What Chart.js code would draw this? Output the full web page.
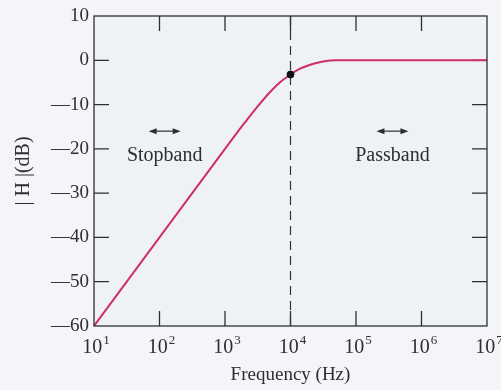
<!DOCTYPE html>
<html>
<head>
<meta charset="utf-8">
<script src="https://cdn.jsdelivr.net/npm/chart.js@4.4.0/dist/chart.umd.min.js"></script>
<style>
  html, body { margin: 0; padding: 0; background: #f3f5f8; }
  #wrap { width: 501px; height: 390px; }
</style>
</head>
<body>
<div id="wrap"><canvas id="bode"></canvas></div>
<script>
// frequency response
const freq = [10, 100, 1000, 1500, 2000, 3000, 5000, 7000, 10000, 14000, 20000, 30000, 40000, 50000, 100000, 1000000, 10000000];
const gain = [-60, -40, -20, -16.5, -14.1, -10.8, -7.0, -4.9, -3.2, -1.9, -1.0, -0.35, -0.05, 0, 0, 0, 0];
const decades = [10, 100, 1000, 10000, 100000, 1000000, 10000000];
const exponents = ['1', '2', '3', '4', '5', '6', '7'];
const yTicks = [10, 0, -10, -20, -30, -40, -50, -60];
const cornerFreq = 10000;
const cornerGain = -3.2;

const serif = 'Liberation Serif';
const ink = '#2e2e2e';

// bands: label text, x/y of label in data units
const bands = [
  { text: 'Stopband', f: 120, db: -21.5, arrowDb: -16.0 },
  { text: 'Passband', f: 360000, db: -21.5, arrowDb: -16.0 }
];

const decorations = {
  id: 'decorations',
  beforeDraw(chart) {
    const { ctx, chartArea: a } = chart;
    ctx.save();
    ctx.fillStyle = '#eef2f7';
    ctx.fillRect(a.left, a.top, a.right - a.left, a.bottom - a.top);
    ctx.restore();
  },
  beforeDatasetsDraw(chart) {
    const { ctx, chartArea: a } = chart;
    const xs = chart.scales.x, ys = chart.scales.y;
    ctx.save();
    ctx.strokeStyle = ink;
    ctx.lineWidth = 1.3;
    // inward ticks
    const len = 15;
    ctx.beginPath();
    decades.slice(1, -1).forEach(v => {
      const px = xs.getPixelForValue(v);
      ctx.moveTo(px, a.bottom); ctx.lineTo(px, a.bottom - len);
      ctx.moveTo(px, a.top); ctx.lineTo(px, a.top + len);
    });
    yTicks.slice(1, -1).forEach(v => {
      const py = ys.getPixelForValue(v);
      ctx.moveTo(a.left, py); ctx.lineTo(a.left + len, py);
      ctx.moveTo(a.right, py); ctx.lineTo(a.right - len, py);
    });
    ctx.stroke();
    ctx.restore();
  },
  afterDraw(chart) {
    const { ctx, chartArea: a } = chart;
    const xs = chart.scales.x, ys = chart.scales.y;
    ctx.save();
    ctx.strokeStyle = ink;
    ctx.lineWidth = 1.3;
    ctx.strokeRect(a.left, a.top, a.right - a.left, a.bottom - a.top);

    // decade labels 10^n
    ctx.fillStyle = ink;
    ctx.textBaseline = 'alphabetic';
    ctx.textAlign = 'left';
    decades.forEach((v, i) => {
      const px = xs.getPixelForValue(v);
      ctx.font = '20px "' + serif + '"';
      const wBase = ctx.measureText('10').width;
      ctx.font = '13px "' + serif + '"';
      const wExp = ctx.measureText(exponents[i]).width;
      const x0 = px - (wBase + wExp + 1) / 2 + 2;
      ctx.font = '20px "' + serif + '"';
      ctx.fillText('10', x0, a.bottom + 27);
      ctx.font = '13px "' + serif + '"';
      ctx.fillText(exponents[i], x0 + wBase + 1, a.bottom + 18);
    });

    // band labels with double arrows
    ctx.font = '20px "' + serif + '"';
    ctx.textAlign = 'center';
    ctx.textBaseline = 'middle';
    bands.forEach(b => {
      const cx = xs.getPixelForValue(b.f);
      ctx.fillText(b.text, cx, ys.getPixelForValue(b.db));
      const ay = ys.getPixelForValue(b.arrowDb);
      const half = 16, head = 6;
      ctx.lineWidth = 1.2;
      ctx.beginPath();
      ctx.moveTo(cx - half + head, ay); ctx.lineTo(cx + half - head, ay);
      ctx.stroke();
      ctx.beginPath();
      ctx.moveTo(cx - half, ay); ctx.lineTo(cx - half + head + 2, ay - 3); ctx.lineTo(cx - half + head + 2, ay + 3); ctx.closePath();
      ctx.moveTo(cx + half, ay); ctx.lineTo(cx + half - head - 2, ay - 3); ctx.lineTo(cx + half - head - 2, ay + 3); ctx.closePath();
      ctx.fill();
    });
    ctx.restore();
  }
};

new Chart(document.getElementById('bode'), {
  type: 'line',
  data: {
    datasets: [
      {
        data: freq.map((f, i) => ({ x: f, y: gain[i] })),
        borderColor: '#cf2f62',
        borderWidth: 2,
        pointRadius: 0,
        cubicInterpolationMode: 'monotone',
        order: 2
      },
      {
        data: [{ x: cornerFreq, y: 10 }, { x: cornerFreq, y: -60 }],
        borderColor: '#333',
        borderWidth: 1.2,
        borderDash: [9, 6],
        pointRadius: 0,
        order: 3
      },
      {
        data: [{ x: cornerFreq, y: cornerGain }],
        showLine: false,
        pointRadius: 3.5,
        pointBackgroundColor: '#111',
        pointBorderColor: '#111',
        order: 1
      }
    ]
  },
  options: {
    responsive: true,
    maintainAspectRatio: false,
    animation: false,
    layout: { padding: { top: 16, right: 14, left: 0, bottom: 0 } },
    plugins: { legend: { display: false }, tooltip: { enabled: false } },
    scales: {
      x: {
        type: 'logarithmic',
        min: 10,
        max: 10000000,
        afterBuildTicks: s => { s.ticks = decades.map(v => ({ value: v })); },
        afterFit: s => { s.height = 64; },
        grid: { display: false },
        border: { display: false },
        ticks: {
          autoSkip: false,
          maxRotation: 0,
          padding: 2,
          color: 'transparent',
          font: { family: serif, size: 20 },
          callback: v => '10'
        },
        title: {
          display: true,
          text: 'Frequency (Hz)',
          color: ink,
          font: { family: serif, size: 19 },
          padding: { top: 0 }
        }
      },
      y: {
        min: -60,
        max: 10,
        afterBuildTicks: s => { s.ticks = yTicks.map(v => ({ value: v })); },
        afterFit: s => { s.width = 94; },
        grid: { display: false },
        border: { display: false },
        ticks: {
          padding: -3,
          color: ink,
          font: { family: serif, size: 19 },
          callback: v => (v < 0 ? '—' + Math.abs(v) : String(v))
        },
        title: {
          display: true,
          text: '| H |(dB)',
          color: ink,
          font: { family: serif, size: 20 },
          padding: { top: 12, bottom: 0 }
        }
      }
    }
  },
  plugins: [decorations]
});
</script>
</body>
</html>
